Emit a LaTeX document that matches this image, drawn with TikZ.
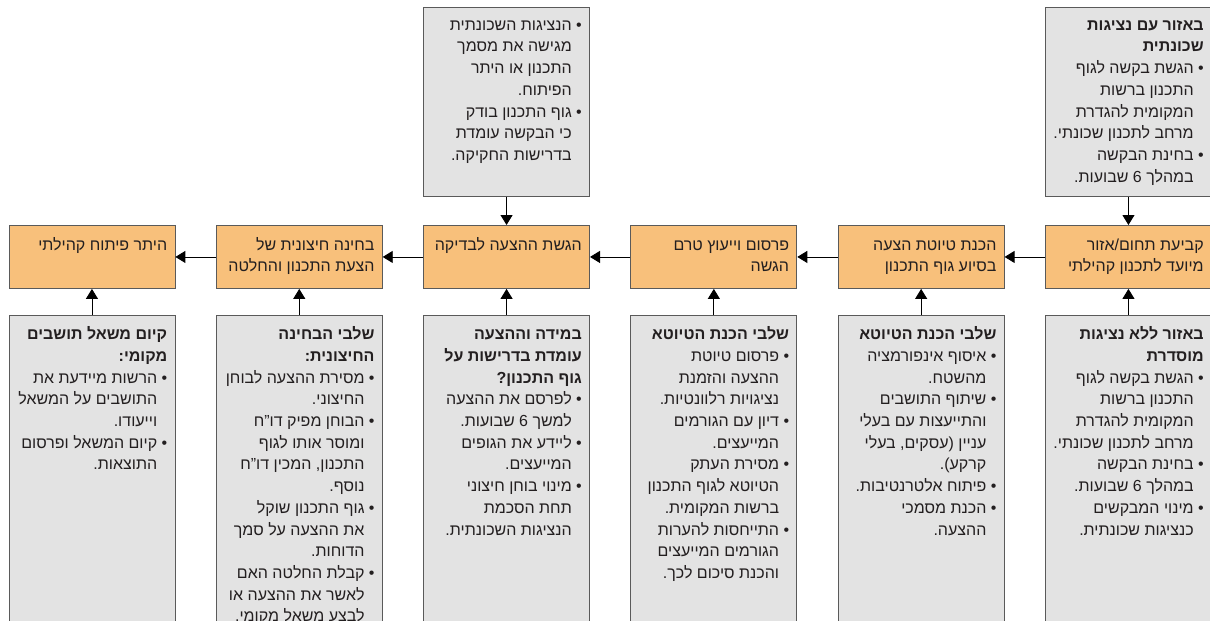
\documentclass[tikz,border=0pt]{standalone}
\usepackage{fontspec}
\usetikzlibrary{arrows.meta}
\newfontfamily\hebfont[Script=Hebrew]{Liberation Sans}
\TeXXeTstate=1
\definecolor{stageorange}{HTML}{F8C07B}
\definecolor{notegrey}{HTML}{E3E3E3}
\definecolor{edgegrey}{HTML}{5A5A5A}
\definecolor{inkgrey}{HTML}{231F20}
\newcommand{\plainLine}[1]{\rule{0pt}{14pt}\beginR #1\endR}
\newcommand{\headLine}[1]{\rule{0pt}{14pt}\textbf{\beginR #1\endR}}
\newcommand{\bulletLine}[1]{\rule{0pt}{14pt}\beginR #1\endR\makebox[10pt][r]{•}}
\newcommand{\moreLine}[1]{\rule{0pt}{14pt}\beginR #1\endR\makebox[10pt]{}}

\begin{document}
\begin{tikzpicture}[x=1pt,y=-1pt]
  \tikzset{every node/.style={inner sep=0pt},
           stage/.style={draw=edgegrey,line width=0.9pt,fill=stageorange,anchor=north west,minimum width=166pt,minimum height=63pt},
           note/.style={draw=edgegrey,line width=0.9pt,fill=notegrey,anchor=north west,minimum width=166pt},
           says/.style={anchor=north east,align=right,text=inkgrey,font=\hebfont\fontsize{16}{21.7}\selectfont},
           flow/.style={line width=0.9pt,-{Triangle[length=10pt,width=12pt]}}}
  \useasboundingbox (0,0) rectangle (1210,621);
  \clip (0,0) rectangle (1210,621);
  \node[stage] (s1) at (1045,225) {};
  \node[stage] (s2) at (837.7,225) {};
  \node[stage] (s3) at (630.4,225) {};
  \node[stage] (s4) at (423.1,225) {};
  \node[stage] (s5) at (215.8,225) {};
  \node[stage] (s6) at (8.5,225) {};
  \node[note,minimum height=189pt] (t1) at (1045,7) {};
  \node[note,minimum height=189pt] (t4) at (423.1,7) {};
  \node[note,minimum height=330pt] (b1) at (1045,315) {};
  \node[note,minimum height=330pt] (b2) at (837.7,315) {};
  \node[note,minimum height=330pt] (b3) at (630.4,315) {};
  \node[note,minimum height=330pt] (b4) at (423.1,315) {};
  \node[note,minimum height=330pt] (b5) at (215.8,315) {};
  \node[note,minimum height=330pt] (b6) at (8.5,315) {};
  \node[says,xshift=-8pt,yshift=-11pt] (s1t) at (s1.north east)
    {\plainLine{קביעת תחום/אזור}\\\plainLine{מיועד לתכנון קהילתי}};
  \node[says,xshift=-8pt,yshift=-11pt] (s2t) at (s2.north east)
    {\plainLine{הכנת טיוטת הצעה}\\\plainLine{בסיוע גוף התכנון}};
  \node[says,xshift=-8pt,yshift=-11pt] (s3t) at (s3.north east)
    {\plainLine{פרסום וייעוץ טרם}\\\plainLine{הגשה}};
  \node[says,xshift=-8pt,yshift=-11pt] (s4t) at (s4.north east)
    {\plainLine{הגשת ההצעה לבדיקה}};
  \node[says,xshift=-8pt,yshift=-11pt] (s5t) at (s5.north east)
    {\plainLine{בחינה חיצונית של}\\\plainLine{הצעת התכנון והחלטה}};
  \node[says,xshift=-8pt,yshift=-11pt] (s6t) at (s6.north east)
    {\plainLine{היתר פיתוח קהילתי}};
  \node[says,xshift=-8pt,yshift=-9pt] (t1t) at (t1.north east)
    {\headLine{באזור עם נציגות}\\\headLine{שכונתית}\\
     \bulletLine{הגשת בקשה לגוף}\\\moreLine{התכנון ברשות}\\\moreLine{המקומית להגדרת}\\\moreLine{מרחב לתכנון שכונתי.}\\
     \bulletLine{בחינת הבקשה}\\\moreLine{במהלך 6 שבועות.}};
  \node[says,xshift=-8pt,yshift=-9pt] (t4t) at (t4.north east)
    {\bulletLine{הנציגות השכונתית}\\\moreLine{מגישה את מסמך}\\\moreLine{התכנון או היתר}\\\moreLine{הפיתוח.}\\
     \bulletLine{גוף התכנון בודק}\\\moreLine{כי הבקשה עומדת}\\\moreLine{בדרישות החקיקה.}};
  \node[says,xshift=-8pt,yshift=-10.5pt] (b1t) at (b1.north east)
    {\headLine{באזור ללא נציגות}\\\headLine{מוסדרת}\\
     \bulletLine{הגשת בקשה לגוף}\\\moreLine{התכנון ברשות}\\\moreLine{המקומית להגדרת}\\\moreLine{מרחב לתכנון שכונתי.}\\
     \bulletLine{בחינת הבקשה}\\\moreLine{במהלך 6 שבועות.}\\
     \bulletLine{מינוי המבקשים}\\\moreLine{כנציגות שכונתית.}};
  \node[says,xshift=-8pt,yshift=-10.5pt] (b2t) at (b2.north east)
    {\headLine{שלבי הכנת הטיוטא}\\
     \bulletLine{איסוף אינפורמציה}\\\moreLine{מהשטח.}\\
     \bulletLine{שיתוף התושבים}\\\moreLine{והתייעצות עם בעלי}\\\moreLine{עניין (עסקים, בעלי}\\\moreLine{קרקע).}\\
     \bulletLine{פיתוח אלטרנטיבות.}\\
     \bulletLine{הכנת מסמכי}\\\moreLine{ההצעה.}};
  \node[says,xshift=-8pt,yshift=-10.5pt] (b3t) at (b3.north east)
    {\headLine{שלבי הכנת הטיוטא}\\
     \bulletLine{פרסום טיוטת}\\\moreLine{ההצעה והזמנת}\\\moreLine{נציגויות רלוונטיות.}\\
     \bulletLine{דיון עם הגורמים}\\\moreLine{המייעצים.}\\
     \bulletLine{מסירת העתק}\\\moreLine{הטיוטא לגוף התכנון}\\\moreLine{ברשות המקומית.}\\
     \bulletLine{התייחסות להערות}\\\moreLine{הגורמים המייעצים}\\\moreLine{והכנת סיכום לכך.}};
  \node[says,xshift=-8pt,yshift=-10.5pt] (b4t) at (b4.north east)
    {\headLine{במידה וההצעה}\\\headLine{עומדת בדרישות על}\\\headLine{גוף התכנון?}\\
     \bulletLine{לפרסם את ההצעה}\\\moreLine{למשך 6 שבועות.}\\
     \bulletLine{ליידע את הגופים}\\\moreLine{המייעצים.}\\
     \bulletLine{מינוי בוחן חיצוני}\\\moreLine{תחת הסכמת}\\\moreLine{הנציגות השכונתית.}};
  \node[says,xshift=-8pt,yshift=-10.5pt] (b5t) at (b5.north east)
    {\headLine{שלבי הבחינה}\\\headLine{החיצונית:}\\
     \bulletLine{מסירת ההצעה לבוחן}\\\moreLine{החיצוני.}\\
     \bulletLine{הבוחן מפיק דו”ח}\\\moreLine{ומוסר אותו לגוף}\\\moreLine{התכנון, המכין דו”ח}\\\moreLine{נוסף.}\\
     \bulletLine{גוף התכנון שוקל}\\\moreLine{את ההצעה על סמך}\\\moreLine{הדוחות.}\\
     \bulletLine{קבלת החלטה האם}\\\moreLine{לאשר את ההצעה או}\\\moreLine{לבצע משאל מקומי.}};
  \node[says,xshift=-8pt,yshift=-10.5pt] (b6t) at (b6.north east)
    {\headLine{קיום משאל תושבים}\\\headLine{מקומי:}\\
     \bulletLine{הרשות מיידעת את}\\\moreLine{התושבים על המשאל}\\\moreLine{וייעודו.}\\
     \bulletLine{קיום המשאל ופרסום}\\\moreLine{התוצאות.}};
  \draw[flow] (t1.south) -- (s1.north);
  \draw[flow] (t4.south) -- (s4.north);
  \draw[flow] (b1.north) -- (s1.south);
  \draw[flow] (b2.north) -- (s2.south);
  \draw[flow] (b3.north) -- (s3.south);
  \draw[flow] (b4.north) -- (s4.south);
  \draw[flow] (b5.north) -- (s5.south);
  \draw[flow] (b6.north) -- (s6.south);
  \draw[flow] (s1.west) -- (s2.east);
  \draw[flow] (s2.west) -- (s3.east);
  \draw[flow] (s3.west) -- (s4.east);
  \draw[flow] (s4.west) -- (s5.east);
  \draw[flow] (s5.west) -- (s6.east);
\end{tikzpicture}
\end{document}
